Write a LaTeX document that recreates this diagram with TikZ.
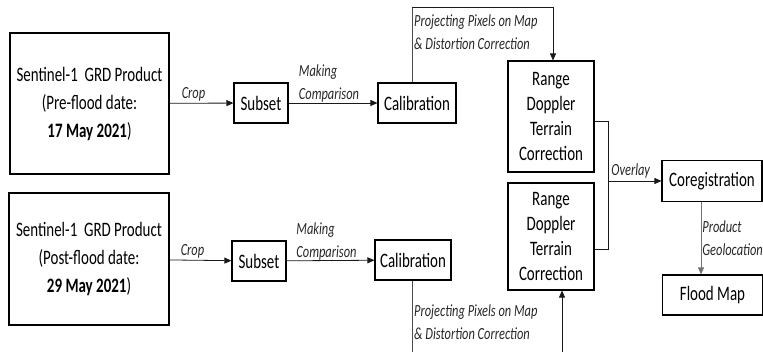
\documentclass[tikz,border=0pt]{standalone}
\usepackage{fontspec}
\setmainfont{Carlito}[FakeStretch=0.73]
\usetikzlibrary{arrows.meta}

\begin{document}
\begin{tikzpicture}[x=1pt, y=-1pt,
    box/.style={draw, line width=1.1pt, align=center, inner sep=0pt, font=\fontsize{20.5}{28}\selectfont},
    link/.style={draw=black!90, line width=0.8pt},
    arr/.style={link, -{Triangle[length=7pt,width=6pt]}},
    lbl/.style={font=\fontsize{17}{23}\selectfont\itshape, text=black!85, inner sep=1pt}]
\useasboundingbox (0,0) rectangle (763,352);

% Input products
\node[box, minimum width=159, minimum height=141] (pre) at (89.5,103.5)
    {Sentinel-1\ \ GRD Product\\(Pre-flood date:\\\textbf{17 May 2021})};
\node[box, minimum width=160, minimum height=132] (post) at (89,259)
    {Sentinel-1\ \ GRD Product\\(Post-flood date:\\\textbf{29 May 2021})};

% Subset and calibration
\node[box, minimum width=54, minimum height=40] (subpre) at (261,103) {Subset};
\node[box, minimum width=54, minimum height=40] (subpost) at (259,261) {Subset};
\node[box, minimum width=78, minimum height=40] (calpre) at (417,103) {Calibration};
\node[box, minimum width=76, minimum height=40] (calpost) at (413,260) {Calibration};

% Terrain correction
\node[box, minimum width=86, minimum height=111, font=\fontsize{20.5}{25}\selectfont] (rdpre) at (551,116.5)
    {Range\\Doppler\\Terrain\\Correction};
\node[box, minimum width=86, minimum height=107, font=\fontsize{20.5}{25}\selectfont] (rdpost) at (551,236.5)
    {Range\\Doppler\\Terrain\\Correction};

% Output
\node[box, minimum width=100, minimum height=41] (coreg) at (712,181) {Coregistration};
\node[box, minimum width=100, minimum height=40] (flood) at (712.5,295) {Flood Map};

% Row 1
\draw[arr] (pre) -- (subpre) node[lbl, midway, above=1pt, xshift=-8pt] {Crop};
\draw[arr] (subpre) -- (calpre) node[lbl, midway, above=-1pt, align=left, xshift=-4pt] {Making\\Comparison};
\coordinate (ctop) at (412,7);
\coordinate (rtop) at (553,7);
\draw[link, draw=black!70] ([xshift=-5pt]calpre.north) -- (ctop);
\draw[arr] (ctop) -- (rtop) -- (rtop |- rdpre.north);
\node[lbl, anchor=north west, align=left] (projpre) at (413,14) {Projecting Pixels on Map\\\& Distortion Correction};

% Row 2
\draw[arr] (post) -- (subpost) node[lbl, midway, above=1pt, xshift=-8pt] {Crop};
\draw[arr] (subpost) -- (calpost) node[lbl, midway, above=-1pt, align=left, xshift=-4pt] {Making\\Comparison};
\coordinate (cbot) at (412,360);
\coordinate (rbot) at (562,360);
\draw[link, draw=black!70] ([xshift=-1pt]calpost.south) -- (cbot) -- (rbot);
\draw[arr] (rbot) -- (rbot |- rdpost.south);
\node[lbl, anchor=north west, align=left] (projpost) at (413,303) {Projecting Pixels on Map\\\& Distortion Correction};

% Overlay and geolocation
\coordinate (join) at (608,181);
\draw[link] ([yshift=-4.5pt]rdpre.east) -| (join);
\draw[link] ([yshift=-12.5pt]rdpost.east) -| (join);
\draw[arr] (join) -- (coreg) node[lbl, midway, above=1pt, xshift=-4pt] {Overlay};
\draw[arr, draw=black!55] ([xshift=-11pt]coreg.south) -- ([xshift=-11.5pt]flood.north)
    node[lbl, midway, right=0pt, align=left] {Product\\Geolocation};

\end{tikzpicture}
\end{document}
